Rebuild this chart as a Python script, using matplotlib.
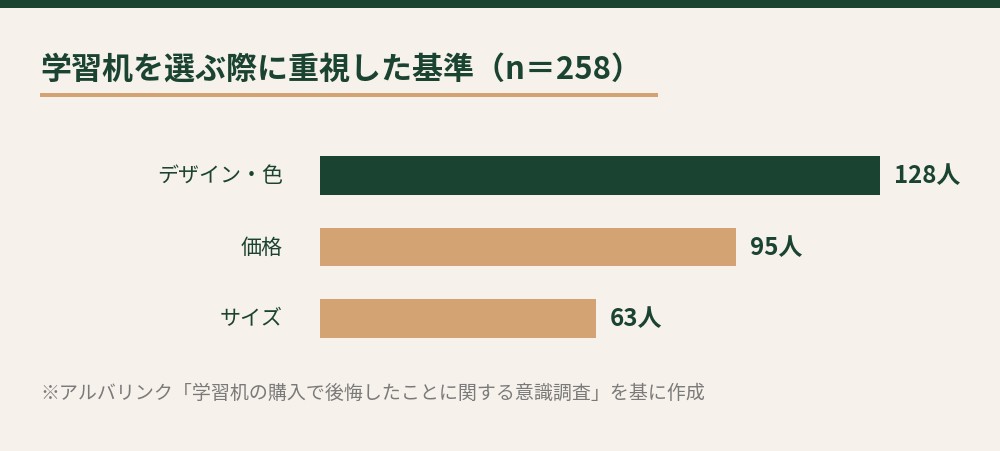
import matplotlib.pyplot as plt
import matplotlib.patches as mpatches

plt.rcParams['font.family'] = ['Noto Sans CJK JP', 'DejaVu Sans']

categories = ['デザイン・色', '価格', 'サイズ']
counts = [128, 95, 63]
title = '学習机を選ぶ際に重視した基準（n＝258）'
note = '※アルバリンク「学習机の購入で後悔したことに関する意識調査」を基に作成'

BG = '#F6F1EA'
GREEN = '#1B4331'
TAN = '#D4A373'
GREY = '#7A7A7A'

W, H = 1000, 452
fig = plt.figure(figsize=(W / 100, H / 100), dpi=100, facecolor=BG)

def px(v):
    # pixel size -> points
    return v * 72 / 100

# top band and title underline
fig.add_artist(mpatches.Rectangle((0, 1 - 9 / H), 1, 9 / H, transform=fig.transFigure,
                                  color=GREEN, lw=0))
fig.add_artist(mpatches.Rectangle((40 / W, 1 - 98 / H), 618 / W, 4 / H, transform=fig.transFigure,
                                  color=TAN, lw=0))
fig.text(40 / W, 1 - 70 / H, title, fontsize=px(31), fontweight='bold', color=GREEN,
         ha='left', va='center')

# bars
top, bottom = 140.75, 355.25
ax = fig.add_axes([320 / W, 1 - bottom / H, 560 / W, (bottom - top) / H])
ax.set_facecolor(BG)
pos = list(range(len(categories)))
colors = [GREEN] + [TAN] * (len(categories) - 1)
ax.barh(pos, counts, height=0.545, color=colors)
ax.set_xlim(0, max(counts))
ax.set_ylim(len(categories) - 0.5, -0.5)
ax.axis('off')

for p, c, v in zip(pos, categories, counts):
    ax.annotate(c, (0, p), xytext=(-37, 0), textcoords='offset pixels', ha='right', va='center',
                fontsize=px(21), color=GREEN)
    ax.annotate(f'{v}人', (v, p), xytext=(14, 0), textcoords='offset pixels', ha='left',
                va='center', fontsize=px(24), fontweight='bold', color=GREEN)

fig.text(40 / W, 1 - 393 / H, note, fontsize=px(19), color=GREY, ha='left', va='center')

fig.savefig('out.png', dpi=100, facecolor=BG)
